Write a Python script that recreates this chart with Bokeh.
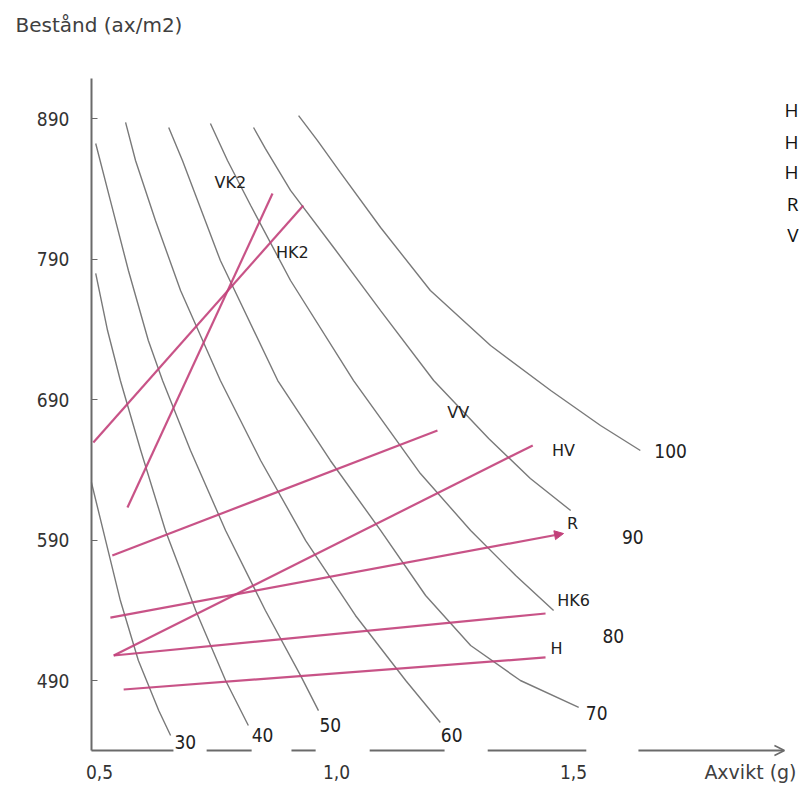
from bokeh.plotting import figure
from bokeh.models import Range1d, FixedTicker, Arrow, OpenHead, NormalHead
from bokeh.core.properties import value
from bokeh.embed import file_html
from bokeh.resources import INLINE

# ---- data: x = Axvikt (g), y = Bestånd (ax/m2) ----
iso_levels = ["30", "40", "50", "60", "70", "80", "90", "100"]

iso_30_x = [0.483, 0.513, 0.544, 0.582, 0.625, 0.650]
iso_30_y = [630.9, 589.6, 546.9, 504.2, 468.6, 450.9]
iso_40_x = [0.492, 0.517, 0.544, 0.587, 0.639, 0.703, 0.766, 0.814]
iso_40_y = [779.7, 739.1, 703.5, 653.7, 596.8, 539.8, 490.0, 458.0]
iso_50_x = [0.492, 0.523, 0.561, 0.603, 0.633, 0.692, 0.766, 0.850, 0.924, 0.962]
iso_50_y = [872.2, 831.6, 781.8, 732.0, 703.5, 653.7, 596.8, 539.8, 493.6, 468.6]
iso_60_x = [0.555, 0.576, 0.618, 0.671, 0.755, 0.840, 0.935, 1.040, 1.146, 1.219]
iso_60_y = [887.2, 860.1, 817.4, 767.6, 703.5, 646.6, 589.6, 536.3, 490.0, 460.1]
iso_70_x = [0.646, 0.675, 0.755, 0.876, 0.987, 1.093, 1.188, 1.283, 1.388, 1.511]
iso_70_y = [883.6, 860.1, 788.9, 703.5, 646.6, 596.8, 550.5, 514.9, 490.0, 470.8]
iso_80_x = [0.734, 0.770, 0.819, 0.903, 1.036, 1.177, 1.283, 1.378, 1.458]
iso_80_y = [886.4, 860.1, 828.1, 774.7, 703.5, 637.3, 596.8, 564.7, 539.8]
iso_90_x = [0.825, 0.850, 0.903, 0.994, 1.093, 1.205, 1.321, 1.409, 1.494]
iso_90_y = [883.6, 868.6, 838.8, 798.2, 753.3, 703.5, 662.2, 633.8, 611.0]
iso_100_x = [0.920, 0.960, 1.008, 1.093, 1.198, 1.325, 1.452, 1.557, 1.641]
iso_100_y = [892.1, 874.3, 851.6, 812.4, 767.6, 728.4, 696.4, 671.5, 653.7]

iso_label_x = [0.681, 0.844, 0.987, 1.243, 1.549, 1.584, 1.625, 1.705]
iso_label_y = [445.9, 450.9, 458.0, 450.9, 467.2, 522.0, 591.8, 653.7]

line_names = ["VK2", "HK2", "VV", "HV", "R", "HK6", "H"]
line_x0 = [0.559, 0.487, 0.527, 0.530, 0.523, 0.530, 0.551]
line_y0 = [613.1, 659.4, 579.0, 507.8, 534.8, 507.8, 483.6]
line_x1 = [0.865, 0.930, 1.213, 1.414, 1.479, 1.441, 1.441]
line_y1 = [836.6, 828.1, 667.9, 657.3, 594.6, 537.7, 506.4]
line_label_x = [0.776, 0.907, 1.257, 1.479, 1.498, 1.500, 1.464]
line_label_y = [844.4, 794.6, 680.7, 653.7, 601.7, 546.9, 512.8]

# legend column at the right edge: only its first letters are visible in the picture
legend_names = ["H", "H", "H", "R", "V"]
legend_x = [1.9747] * 5
legend_y = [895.7, 873.6, 851.6, 829.5, 807.4]

y_ticks = [490, 590, 690, 790, 890]
x_ticks = [0.5, 1.0, 1.5]
x_tick_labels = ["0,5", "1,0", "1,5"]

# axis placement and the hand-drawn broken x axis
axis_y = 440.2
yaxis_x = 0.483
yaxis_top = 918.5
axis_dash_x0 = [0.483, 0.726, 0.905, 1.070, 1.319]
axis_dash_x1 = [0.656, 0.821, 0.956, 1.228, 1.527]
axis_arrow_x = [1.637, 1.945]

y_title = "Bestånd (ax/m2)"
y_title_pos = (0.3228, 956.2)
x_title = "Axvikt (g)"
x_title_pos = (1.9705, 425.2)

NARROW = "'Liberation Sans Narrow', 'DejaVu Sans Condensed', Roboto"
GRAY = "#6a6a6a"
PINK = "#c2407a"

p = figure(width=799, height=789, output_backend="svg", toolbar_location=None, tools="",
           x_range=Range1d(0.29114, 1.97679), y_range=Range1d(412.42, 973.99),
           min_border_left=0, min_border_right=0, min_border_top=0, min_border_bottom=0)
p.outline_line_color = None
p.grid.visible = False
p.background_fill_color = "white"

# y axis drawn inside the canvas at x = yaxis_x
p.yaxis.fixed_location = yaxis_x
p.yaxis.bounds = (axis_y, yaxis_top)
p.yaxis.ticker = FixedTicker(ticks=y_ticks)
p.yaxis.axis_line_color = GRAY
p.yaxis.axis_line_width = 2
p.yaxis.major_tick_in = 6
p.yaxis.major_tick_out = 0
p.yaxis.major_tick_line_color = GRAY
p.yaxis.minor_tick_line_color = None
p.yaxis.major_label_standoff = 22
p.yaxis.major_label_text_font = NARROW
p.yaxis.major_label_text_font_size = "19px"
p.yaxis.major_label_text_color = "#333333"

# x axis at y = axis_y (its line is drawn broken, below)
p.xaxis.fixed_location = axis_y
p.xaxis.ticker = FixedTicker(ticks=x_ticks)
p.xaxis.major_label_overrides = {t: s for t, s in zip(x_ticks, x_tick_labels)}
p.xaxis.axis_line_color = None
p.xaxis.major_tick_line_color = None
p.xaxis.minor_tick_line_color = None
p.xaxis.major_label_standoff = 9
p.xaxis.major_label_text_font = NARROW
p.xaxis.major_label_text_font_size = "19px"
p.xaxis.major_label_text_color = "#333333"

p.segment(x0=axis_dash_x0, y0=[axis_y] * len(axis_dash_x0), x1=axis_dash_x1,
          y1=[axis_y] * len(axis_dash_x1), line_color=GRAY, line_width=2)
p.add_layout(Arrow(end=OpenHead(size=10, line_color=GRAY, line_width=1.5),
                   x_start=axis_arrow_x[0], y_start=axis_y, x_end=axis_arrow_x[1], y_end=axis_y,
                   line_color=GRAY, line_width=2))

# axis titles
p.text(x=[y_title_pos[0]], y=[y_title_pos[1]], text=[y_title], text_font=value("DejaVu Sans"),
       text_font_size="20px", text_align="left", text_baseline="middle", text_color="#404040")
p.text(x=[x_title_pos[0]], y=[x_title_pos[1]], text=[x_title], text_font=value("DejaVu Sans"),
       text_font_size="19px", text_align="right", text_baseline="middle", text_color="#404040")

# iso curves
iso_xs = [iso_30_x, iso_40_x, iso_50_x, iso_60_x, iso_70_x, iso_80_x, iso_90_x, iso_100_x]
iso_ys = [iso_30_y, iso_40_y, iso_50_y, iso_60_y, iso_70_y, iso_80_y, iso_90_y, iso_100_y]
p.multi_line(xs=iso_xs, ys=iso_ys, line_color=GRAY, line_width=1.4, line_alpha=0.9)
p.text(x=iso_label_x, y=iso_label_y, text=iso_levels, text_font=value(NARROW),
       text_font_size="19px", text_align="center", text_baseline="middle", text_color="#222222")

# pink lines
for i, name in enumerate(line_names):
    if name == "R":
        p.add_layout(Arrow(end=NormalHead(size=9, fill_color=PINK, line_color=PINK),
                           x_start=line_x0[i], y_start=line_y0[i], x_end=line_x1[i], y_end=line_y1[i],
                           line_color=PINK, line_width=2.2, line_alpha=0.9))
    else:
        p.segment(x0=[line_x0[i]], y0=[line_y0[i]], x1=[line_x1[i]], y1=[line_y1[i]],
                  line_color=PINK, line_width=2.2, line_alpha=0.9)
p.text(x=line_label_x, y=line_label_y, text=line_names, text_font=value("DejaVu Sans"),
       text_font_size="16px", text_align="center", text_baseline="middle", text_color="#222222")

# legend letters at the right edge
p.text(x=legend_x, y=legend_y, text=legend_names, text_font=value("Open Sans"),
       text_font_size="19px", text_align="right", text_baseline="middle", text_color="#111111")

open("out.html", "w").write(file_html(p, INLINE))
